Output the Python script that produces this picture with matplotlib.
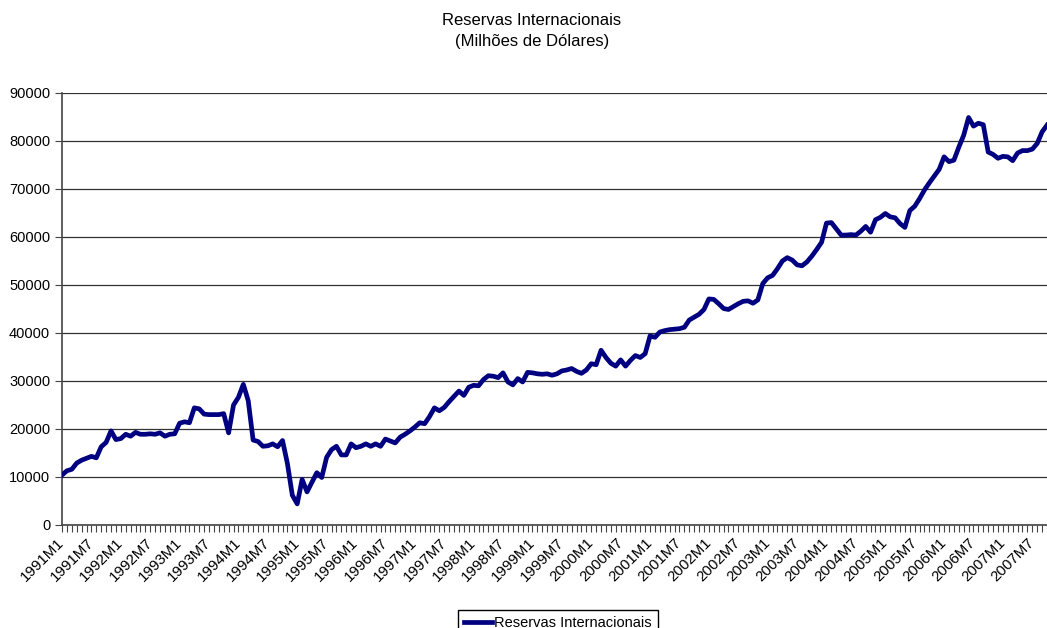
from matplotlib import pyplot as plt

plt.rcParams['font.family'] = ['Liberation Sans', 'DejaVu Sans']

# reservas mensais, 1991M1 .. 2007M10 (milhões de US$)
reservas = [
    10400, 11300, 11600, 12900, 13500, 13900, 14300, 14000, 16300, 17200,
    19600, 17800, 18000, 18900, 18500, 19300, 18900, 18900, 19000, 18900,
    19200, 18500, 18900, 19000, 21200, 21500, 21300, 24400, 24200,
    23100, 23000, 23000, 23000, 23200, 19200, 25000, 26600, 29300, 25900,
    17700, 17400, 16400, 16500, 16900, 16300, 17600, 12800, 6200, 4400,
    9500, 6900, 8900, 10900, 9900, 14100, 15700, 16400, 14600,
    14600, 16900, 16100, 16400, 16900, 16400, 16900, 16400, 17900, 17500,
    17100, 18300, 18900, 19600, 20400, 21300, 21100, 22600, 24400, 23800,
    24500, 25700, 26800, 27900, 27000, 28700, 29100, 29000,
    30300, 31100, 31000, 30700, 31700, 29800, 29200, 30500, 29800, 31800,
    31700, 31500, 31400, 31500, 31200, 31500, 32100, 32300, 32600, 32000,
    31600, 32300, 33600, 33400, 36400, 34900, 33700, 33100, 34400,
    33100, 34300, 35300, 34900, 35700, 39400, 39100, 40200, 40500, 40700,
    40800, 40900, 41200, 42700, 43300, 43900, 44900, 47100, 47000, 46100,
    45100, 44900, 45500, 46100, 46600, 46700, 46200, 46900, 50300,
    51500, 52000, 53400, 55000, 55700, 55200, 54200, 54000, 54800, 56000,
    57400, 58900, 62900, 63000, 61700, 60400, 60400, 60500, 60400, 61200,
    62200, 61000, 63600, 64100, 64900, 64200, 64000, 62800,
    62000, 65500, 66400, 68000, 69800, 71300, 72700, 74100, 76700, 75700,
    76000, 78700, 81200, 84900, 83100, 83700, 83400, 77700, 77200, 76400,
    76800, 76700, 75900, 77500, 78000, 78000, 78300, 79500, 81900, 83300,
]
meses = [f"{a}M{m}" for a in range(1991, 2008) for m in range(1, 13)][:len(reservas)]
yticks = list(range(0, 90001, 10000))

fig = plt.figure(figsize=(10.47, 6.28), dpi=100)
ax = fig.add_axes([62 / 1047, 1 - 525 / 628, 1 - 62 / 1047, 432 / 628])

x = list(range(len(reservas)))
ax.plot(x, reservas, color="#000080", linewidth=3.4, solid_joinstyle="round",
        label="Reservas Internacionais", zorder=3)

ax.set_xlim(0, len(reservas) - 1)
ax.set_ylim(0, 90000)
ax.set_yticks(yticks)
ax.set_yticklabels([str(v) for v in yticks], fontsize=10.5)

# rotulos a cada 6 meses, tracinho em todos os meses
ax.set_xticks(x[::6])
ax.set_xticklabels(meses[::6], rotation=45, ha="right", va="center",
                   rotation_mode="anchor", fontsize=10.8)
ax.set_xticks(x, minor=True)
ax.tick_params(axis="x", which="both", length=5, width=0.8, color="#444444")
ax.tick_params(axis="x", which="major", pad=6)
ax.tick_params(axis="y", length=5, width=0.8, color="#444444")

ax.grid(axis="y", color="#333333", linewidth=0.9)
ax.set_axisbelow(True)
for s in ["top", "right"]:
    ax.spines[s].set_visible(False)
for s in ["left", "bottom"]:
    ax.spines[s].set_color("#444444")
    ax.spines[s].set_linewidth(1.2)

fig.text(532 / 1047, 1 - 31 / 628, "Reservas Internacionais\n(Milhões de Dólares)",
         ha="center", va="center", fontsize=12, linespacing=1.55)

leg = fig.legend(loc="upper left", bbox_to_anchor=(458 / 1047, 1 - 610 / 628),
                 fontsize=10.5, fancybox=False, edgecolor="black",
                 handlelength=1.9, handletextpad=0.2, borderpad=0.4,
                 borderaxespad=0, framealpha=1)
leg.get_frame().set_linewidth(1.0)

plt.savefig("out.png", dpi=100)
